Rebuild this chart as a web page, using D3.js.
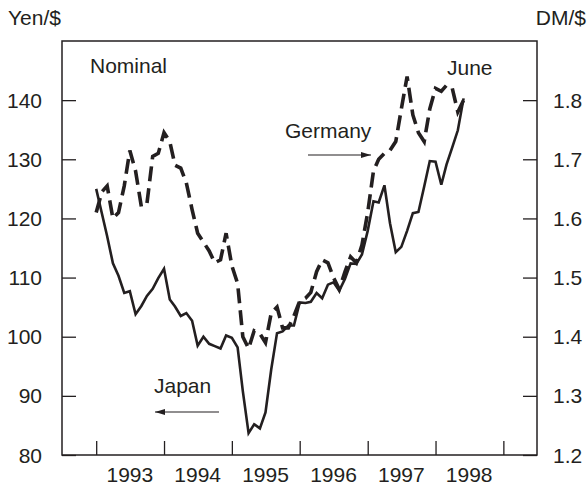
<!DOCTYPE html>
<html>
<head>
<meta charset="utf-8">
<script src="https://cdn.jsdelivr.net/npm/d3@7"></script>
<style>
  body { margin: 0; background: #fff; }
  text { font-family: "Liberation Sans", Arial, sans-serif; fill: #231f20; }
</style>
</head>
<body>
<div id="chart"></div>
<script>
// monthly data, Jan 1993 - Jun 1998
var startMonth = "1993-01";
var japanYen = [
  125.0, 120.8, 117.0, 112.4, 110.3, 107.4, 107.7, 103.8, 105.2, 106.9, 108.1, 109.9,
  111.5, 106.3, 105.1, 103.5, 104.0, 102.7, 98.5, 100.0, 98.8, 98.4, 98.0, 100.2,
  99.8, 98.2, 90.8, 83.7, 85.2, 84.5, 87.2, 94.5, 100.6, 100.9, 101.9, 101.9,
  105.8, 105.7, 105.9, 107.4, 106.5, 108.8, 109.2, 107.8, 109.8, 112.4, 112.3, 113.9,
  117.9, 122.9, 122.7, 125.6, 119.2, 114.3, 115.2, 117.9, 120.9, 121.1, 125.4, 129.7,
  129.6, 125.7, 129.1, 132.0, 134.9, 140.3
];
var germanyDM = [
  1.61, 1.645, 1.655, 1.60, 1.61, 1.655, 1.715, 1.68, 1.62, 1.625, 1.705, 1.71,
  1.745, 1.73, 1.69, 1.685, 1.66, 1.615, 1.575, 1.56, 1.545, 1.525, 1.53, 1.575,
  1.52, 1.49, 1.40, 1.38, 1.41, 1.405, 1.39, 1.44, 1.45, 1.415, 1.415, 1.435,
  1.46, 1.465, 1.475, 1.51, 1.53, 1.525, 1.50, 1.48, 1.51, 1.535, 1.525, 1.555,
  1.61, 1.68, 1.70, 1.71, 1.715, 1.73, 1.785, 1.84, 1.775, 1.745, 1.73, 1.785,
  1.82, 1.815, 1.825, 1.82, 1.78, 1.80
];
var yearLabels = [1993, 1994, 1995, 1996, 1997, 1998];
var yenTicks = [80, 90, 100, 110, 120, 130, 140];
var dmTicks = [1.2, 1.3, 1.4, 1.5, 1.6, 1.7, 1.8];

var margin = {top: 41, right: 51, bottom: 33, left: 62},
    width = 588 - margin.left - margin.right,
    height = 488 - margin.top - margin.bottom;

var parseMonth = d3.timeParse("%Y-%m");
var t0 = parseMonth(startMonth);
var dates = japanYen.map(function(d, i) { return d3.timeMonth.offset(t0, i); });

// scales
var x = d3.scaleTime()
  .domain([new Date(1992, 6, 1), new Date(1999, 6, 1)])
  .range([0, width]);
var yL = d3.scaleLinear().domain([80, 150]).range([height, 0]);
var yR = d3.scaleLinear().domain([1.2, 1.9]).range([height, 0]);

var svg = d3.select("#chart").append("svg")
  .attr("width", 588)
  .attr("height", 488);

var g = svg.append("g")
  .attr("transform", "translate(" + margin.left + "," + margin.top + ")");

// frame
g.append("rect")
  .attr("width", width)
  .attr("height", height)
  .attr("fill", "none")
  .attr("stroke", "#231f20")
  .attr("stroke-width", 1.5);

// axes, ticks pointing inward
var yearTicks = d3.range(1993, 2000).map(function(y) { return new Date(y, 0, 1); });
var xAxis = d3.axisTop(x).tickValues(yearTicks).tickSize(14).tickFormat("");
g.append("g")
  .attr("class", "x axis")
  .attr("transform", "translate(0," + height + ")")
  .call(xAxis);

var leftAxis = d3.axisRight(yL).tickValues(yenTicks).tickSize(14).tickFormat("");
g.append("g").attr("class", "y axis").call(leftAxis);

var rightAxis = d3.axisLeft(yR).tickValues(dmTicks).tickSize(14).tickFormat("");
g.append("g")
  .attr("class", "y axis")
  .attr("transform", "translate(" + width + ",0)")
  .call(rightAxis);

g.selectAll(".axis .domain").remove();
g.selectAll(".axis line").attr("stroke", "#231f20").attr("stroke-width", 1.3);

// tick labels
g.selectAll(".ylab-left").data(yenTicks).enter().append("text")
  .attr("x", -20)
  .attr("y", function(d) { return yL(d); })
  .attr("dy", "0.36em")
  .attr("text-anchor", "end")
  .style("font-size", "21px")
  .text(function(d) { return d; });

g.selectAll(".ylab-right").data(dmTicks).enter().append("text")
  .attr("x", width + 16)
  .attr("y", function(d) { return yR(d); })
  .attr("dy", "0.36em")
  .style("font-size", "21px")
  .text(function(d) { return d3.format(".1f")(d); });

g.selectAll(".xlab").data(yearLabels).enter().append("text")
  .attr("x", function(d) { return x(new Date(d, 6, 1)); })
  .attr("y", height + 27)
  .attr("text-anchor", "middle")
  .style("font-size", "21px")
  .text(function(d) { return d; });

// lines
var yenLine = d3.line()
  .x(function(d, i) { return x(dates[i]); })
  .y(function(d) { return yL(d); });
var dmLine = d3.line()
  .x(function(d, i) { return x(dates[i]); })
  .y(function(d) { return yR(d); });

g.append("path")
  .attr("d", yenLine(japanYen))
  .attr("fill", "none")
  .attr("stroke", "#231f20")
  .attr("stroke-width", 2.6)
  .attr("stroke-linejoin", "miter");

g.append("path")
  .attr("d", dmLine(germanyDM))
  .attr("fill", "none")
  .attr("stroke", "#231f20")
  .attr("stroke-width", 3.6)
  .attr("stroke-dasharray", "15,7");

// arrows
var defs = svg.append("defs");
defs.append("marker")
  .attr("id", "head")
  .attr("viewBox", "0 0 10 6")
  .attr("refX", 10).attr("refY", 3)
  .attr("markerWidth", 10).attr("markerHeight", 6)
  .attr("markerUnits", "userSpaceOnUse")
  .attr("orient", "auto")
  .append("path").attr("d", "M0,0L10,3L0,6Z").attr("fill", "#231f20");

svg.append("line")
  .attr("x1", 308).attr("y1", 155).attr("x2", 371).attr("y2", 155)
  .attr("stroke", "#231f20").attr("stroke-width", 1.2)
  .attr("marker-end", "url(#head)");
svg.append("line")
  .attr("x1", 219).attr("y1", 412).attr("x2", 155).attr("y2", 412)
  .attr("stroke", "#231f20").attr("stroke-width", 1.2)
  .attr("marker-end", "url(#head)");

// annotations
function label(txt, x0, y0, anchor) {
  svg.append("text")
    .attr("x", x0).attr("y", y0)
    .attr("text-anchor", anchor || "start")
    .style("font-size", "21px")
    .text(txt);
}
label("Yen/$", 8, 25);
label("DM/$", 586, 25, "end");
label("Nominal", 90, 73);
label("June", 447, 75);
label("Germany", 285, 138);
label("Japan", 154, 393);
</script>
</body>
</html>
